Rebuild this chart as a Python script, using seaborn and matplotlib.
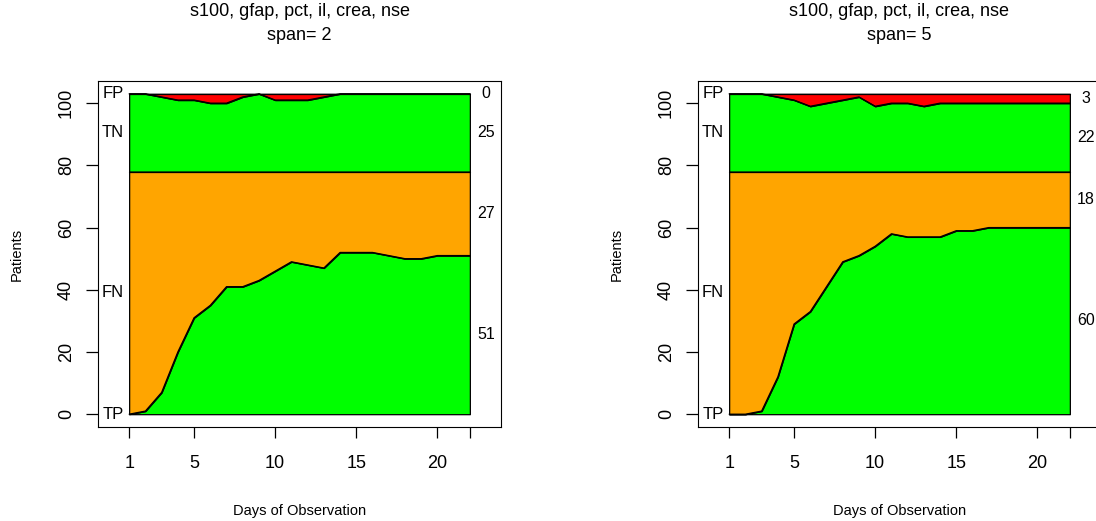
import numpy as np
import pandas as pd
import matplotlib
matplotlib.use("Agg")
import matplotlib.pyplot as plt
import seaborn as sns

# ---------------- data ----------------
days = list(range(1, 23))
tp_span2 = [0, 1, 7, 20, 31, 35, 41, 41, 43, 46, 49, 48, 47, 52, 52, 52, 51, 50, 50, 51, 51, 51]
tn_span2 = [25, 25, 24, 23, 23, 22, 22, 24, 25, 23, 23, 23, 24, 25, 25, 25, 25, 25, 25, 25, 25, 25]
tp_span5 = [0, 0, 1, 12, 29, 33, 41, 49, 51, 54, 58, 57, 57, 57, 59, 59, 60, 60, 60, 60, 60, 60]
tn_span5 = [25, 25, 25, 24, 23, 21, 22, 23, 24, 21, 22, 22, 21, 22, 22, 22, 22, 22, 22, 22, 22, 22]
n_pos = 78
n_neg = 25
title_line1 = "s100, gfap, pct, il, crea, nse"
spans = [2, 5]
x_ticks = [1, 5, 10, 15, 20, 22]
x_ticklabels = ["1", "5", "10", "15", "20", ""]
y_ticks = [0, 20, 40, 60, 80, 100]
class_labels = ["TP", "FN", "TN", "FP"]
class_colors = ["#00FF00", "#FFA500", "#00FF00", "#FF0000"]

# ---------------- style ----------------
sns.set_style("white")
plt.rcParams['font.family'] = ['Liberation Sans', 'DejaVu Sans']
plt.rcParams['text.color'] = 'black'
plt.rcParams['axes.labelcolor'] = 'black'

W, H = 1096, 521
fig = plt.figure(figsize=(W / 100, H / 100), dpi=100)

ax_w = 403 / W
ax_h = 346 / H
ax_bottom = 1 - 427 / H
lefts = [98 / W, 698 / W]

panels = [(tp_span2, tn_span2, spans[0]), (tp_span5, tn_span5, spans[1])]

for left, (tp, tn, span) in zip(lefts, panels):
    ax = fig.add_axes([left, ax_bottom, ax_w, ax_h])
    tp = np.array(tp)
    tn = np.array(tn)
    fn = n_pos - tp
    fp = n_neg - tn
    b1 = tp
    b2 = b1 + fn
    b3 = b2 + tn
    b4 = b3 + fp
    lowers = [np.zeros_like(b1), b1, b2, b3]
    uppers = [b1, b2, b3, b4]
    for lo, up, col in zip(lowers, uppers, class_colors):
        ax.fill_between(days, lo, up, facecolor=col, edgecolor="black",
                        linewidth=0.9, zorder=2)
    # boundary lines via seaborn
    df = pd.DataFrame({
        "day": days * 4,
        "value": np.concatenate([b1, b2, b3, b4]),
        "boundary": np.repeat(class_labels, len(days)),
    })
    sns.lineplot(data=df, x="day", y="value", hue="boundary",
                 palette=["black"] * 4, legend=False, linewidth=0.9,
                 ax=ax, zorder=3)

    # labels at start (class names) and end (final counts)
    first = [b1[0], fn[0], tn[0], fp[0]]
    last = [b1[-1], fn[-1], tn[-1], fp[-1]]
    cum0 = np.concatenate([[0], np.cumsum(first)])
    cum1 = np.concatenate([[0], np.cumsum(last)])
    for i, lab in enumerate(class_labels):
        ax.text(0.0, cum0[i] + first[i] / 2, lab, ha="center", va="center",
                fontsize=12, color="black")
        ax.text(23.0, cum1[i] + last[i] / 2, str(int(last[i])), ha="center",
                va="center", fontsize=11.5, color="black")

    ax.set_xlim(-0.92, 23.92)
    ax.set_ylim(-4.12, 107.12)
    ax.set_xticks(x_ticks)
    ax.set_xticklabels(x_ticklabels)
    ax.set_yticks(y_ticks)
    ax.set_yticklabels([str(v) for v in y_ticks], rotation=90, va="center")
    ax.tick_params(axis="both", direction="out", colors="black",
                   labelsize=13, width=0.9, bottom=True, left=True,
                   top=False, right=False)
    ax.tick_params(axis="y", length=8.6, pad=8)
    ax.tick_params(axis="x", length=8, pad=12)
    for sp in ax.spines.values():
        sp.set_visible(True)
        sp.set_color("black")
        sp.set_linewidth(0.8)

    ax.set_xlabel("Days of Observation", fontsize=10.5, color="black")
    ax.set_ylabel("Patients", fontsize=10.5, color="black")
    ax.xaxis.set_label_coords(0.5, (427 - 511) / 346)
    ax.xaxis.label.set_va("center")
    ax.yaxis.set_label_coords((17 - 98) / 403, 0.5)
    ax.yaxis.label.set_va("center")

    cx = left + (403 / 2) / W
    fig.text(cx, 1 - 12 / H, title_line1, ha="center", va="center",
             fontsize=13, color="black")
    fig.text(cx, 1 - 35 / H, f"span= {span}", ha="center", va="center",
             fontsize=13, color="black")

fig.savefig("out.png", dpi=100)
